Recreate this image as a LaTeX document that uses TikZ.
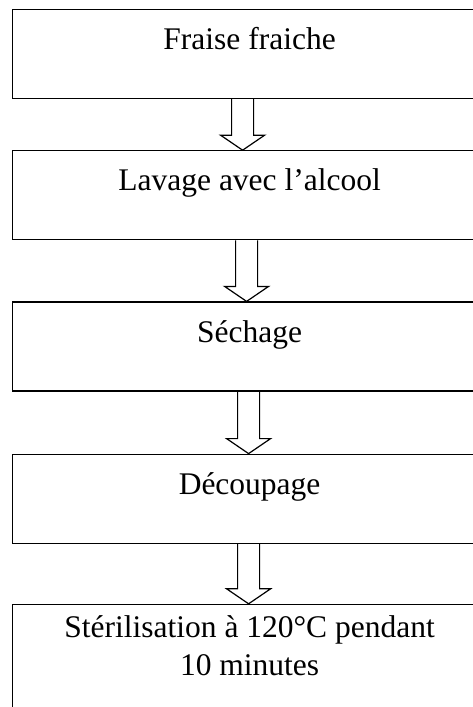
\documentclass[tikz,border=0pt]{standalone}
\usepackage{fontspec}
\setmainfont{Liberation Serif}
\usepackage{tikz}
\usetikzlibrary{positioning, calc}
\tikzstyle{etape} = [rectangle, draw=black, line width=1.2pt, minimum width=474pt, inner ysep=0pt, text height=40pt, text depth=49pt, font=\fontsize{31.5}{38}\selectfont]
\tikzstyle{fleche} = [line width=1.2pt, line join=miter, to path={let \p1=(\tikztostart), \p2=(\tikztotarget) in (\x1-11pt,\y1) -- (\x1-11pt,\y2+15pt) -- (\x1-22pt,\y2+15pt) -- (\x2,\y2) -- (\x1+22pt,\y2+15pt) -- (\x1+11pt,\y2+15pt) -- (\x1+11pt,\y1)}]

\begin{document}
\begin{tikzpicture}[x=1pt, y=1pt]
            \useasboundingbox (0,0) rectangle (473,-707);
            \node[etape, anchor=north west] (fraise) at (12,-9) {Fraise fraiche};
            \node[etape, below=51pt of fraise] (lavage) {Lavage avec l’alcool};
            \node[etape, below=61pt of lavage] (sechage) {Séchage};
            \node[etape, below=62pt of sechage] (decoupage) {Découpage};
            \node[etape, below=60pt of decoupage, text width=450pt, align=flush center, text height=33pt, text depth=120pt] (sterilisation) {Stérilisation à 120°C pendant\\10 minutes};
            
            \draw[fleche] ([xshift=-7pt]fraise.south) to ([xshift=-7pt]lavage.north);
            \draw[fleche] ([xshift=-3pt]lavage.south) to ([xshift=-3pt]sechage.north);
            \draw[fleche] ([xshift=-1pt]sechage.south) to ([xshift=-1pt]decoupage.north);
            \draw[fleche] ([xshift=-1pt]decoupage.south) to ([xshift=-1pt]sterilisation.north);
        \end{tikzpicture}
\end{document}
